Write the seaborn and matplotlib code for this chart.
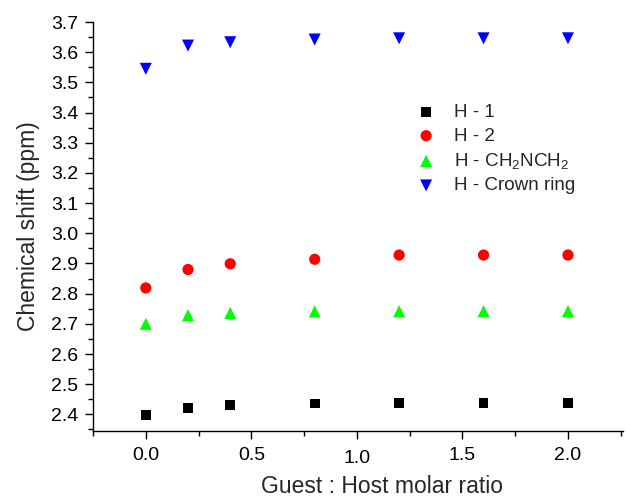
import matplotlib
matplotlib.use("Agg")
import matplotlib.pyplot as plt
import seaborn as sns
import pandas as pd
from matplotlib.ticker import MultipleLocator, FormatStrFormatter
from matplotlib.transforms import ScaledTranslation

ratio = [0.0, 0.2, 0.4, 0.8, 1.2, 1.6, 2.0]
h1 = [2.399, 2.422, 2.431, 2.436, 2.437, 2.437, 2.437]
h2 = [2.819, 2.880, 2.899, 2.914, 2.928, 2.928, 2.928]
h_ch2 = [2.700, 2.729, 2.736, 2.741, 2.742, 2.742, 2.742]
h_crown = [3.545, 3.622, 3.633, 3.642, 3.646, 3.646, 3.646]

labels = ["H - 1", "H - 2", r"H - CH$_2$NCH$_2$", "H - Crown ring"]
colors = ["#000000", "#ff0000", "#00ff00", "#0000ff"]
markers = ["s", "o", "^", "v"]
sizes = [50, 65, 75, 75]

rows = []
for lab, vals in zip(labels, [h1, h2, h_ch2, h_crown]):
    for x, y in zip(ratio, vals):
        rows.append({"ratio": x, "shift": y, "series": lab})
df = pd.DataFrame(rows)

sns.set_style("ticks")
plt.rcParams["font.family"] = ["Liberation Sans", "DejaVu Sans"]
plt.rcParams["mathtext.fontset"] = "custom"
plt.rcParams["mathtext.rm"] = "Liberation Sans"
plt.rcParams["mathtext.it"] = "Liberation Sans"

fig = plt.figure(figsize=(6.26, 4.97), dpi=100)
ax = fig.add_axes([0.1486, 0.1328, 0.8464, 0.8229])

for lab, c, m, s in zip(labels, colors, markers, sizes):
    sub = df[df["series"] == lab]
    sns.scatterplot(data=sub, x="ratio", y="shift", color=c, marker=m, s=s,
                    edgecolor="none", linewidth=0, label=lab, ax=ax)

ax.set_xlim(-0.25, 2.26)
ax.set_ylim(2.345, 3.7)
ax.xaxis.set_major_locator(MultipleLocator(0.5))
ax.xaxis.set_minor_locator(MultipleLocator(0.25))
ax.yaxis.set_major_locator(MultipleLocator(0.1))
ax.yaxis.set_minor_locator(MultipleLocator(0.05))
ax.yaxis.set_major_formatter(FormatStrFormatter("%.1f"))
ax.xaxis.set_major_formatter(FormatStrFormatter("%.1f"))
ax.tick_params(axis="both", which="major", direction="out", length=5.5, width=1,
               labelsize=14, color="black", labelcolor="black")
ax.tick_params(axis="both", which="minor", direction="out", length=3.5, width=1,
               color="black")
ax.tick_params(axis="x", which="major", pad=6)
ax.tick_params(axis="y", which="major", pad=5)
for sp in ["top", "right"]:
    ax.spines[sp].set_visible(False)
for sp in ["left", "bottom"]:
    ax.spines[sp].set_color("black")
    ax.spines[sp].set_linewidth(1)

ax.set_xlabel("Guest : Host molar ratio", fontsize=16.5)
ax.set_ylabel("Chemical shift (ppm)", fontsize=16.5, labelpad=8)
ax.xaxis.set_label_coords(0.545, -0.107)

leg = ax.legend(loc="upper left", bbox_to_anchor=(0.593, 0.818), frameon=False,
                fontsize=13.6, handletextpad=0.9, labelspacing=0.33,
                borderaxespad=0, handlelength=1.2)

fig.canvas.draw()
for lbl in ax.get_xticklabels():
    if lbl.get_text() == "1.0":
        lbl.set_transform(lbl.get_transform() +
                          ScaledTranslation(0, -3 / 100, fig.dpi_scale_trans))

fig.savefig("out.png", dpi=100)
